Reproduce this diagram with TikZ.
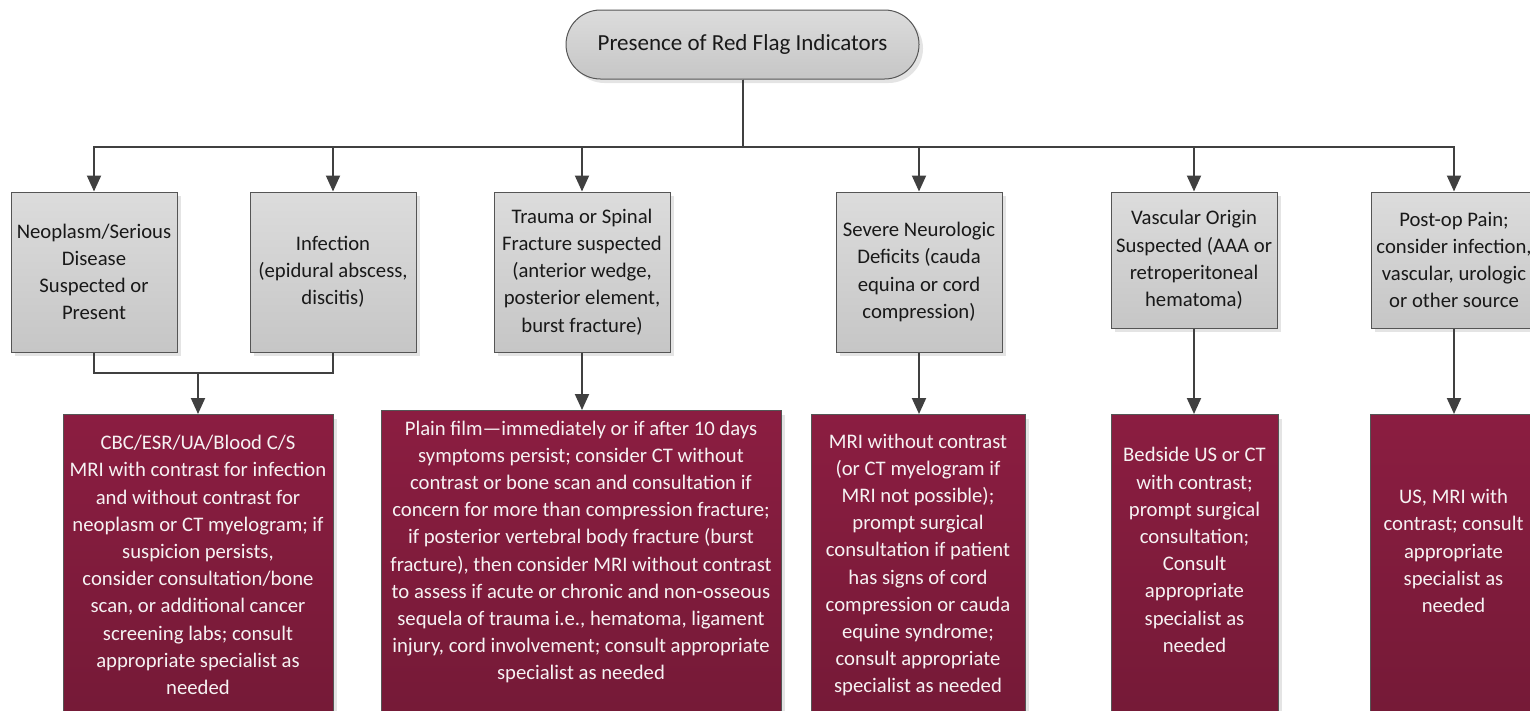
\documentclass[tikz,border=0pt]{standalone}
\usepackage{fontspec}
\setmainfont{Carlito}
\usetikzlibrary{arrows.meta,shadows,calc}
\definecolor{lineC}{HTML}{404040}
\definecolor{greyTop}{HTML}{DCDCDC}
\definecolor{greyBot}{HTML}{C6C6C6}
\definecolor{redTop}{RGB}{139,29,65}
\definecolor{redBot}{RGB}{117,26,55}
\definecolor{boxBorder}{HTML}{555555}
\definecolor{shadowC}{HTML}{E4E4E4}
\definecolor{redText}{HTML}{F6F2F3}
\begin{document}
\begin{tikzpicture}[x=1pt,y=-1pt,
  every node/.style={font=\fontsize{20.7}{27.2}\selectfont},
  sh/.style={general shadow={fill=shadowC, shadow xshift=4pt, shadow yshift=-4pt}},
  greybox/.style={draw=boxBorder, line width=1pt, top color=greyTop, bottom color=greyBot,
    minimum width=166pt, inner sep=0pt, align=center, text=black!90, sh},
  pill/.style={greybox, rounded corners=34.5pt, minimum width=353pt, minimum height=69pt,
    font=\fontsize{23}{28}\selectfont},
  redbox/.style={draw=boxBorder, line width=1pt, top color=redTop, bottom color=redBot,
    inner sep=0pt, anchor=north, sh},
  redtext/.style={text=redText, align=center, inner sep=0pt},
  line/.style={draw=lineC, line width=2pt, line join=miter},
  arr/.style={line, -{Triangle[width=14pt,length=16pt]}}
]
\useasboundingbox (0,0) rectangle (1530,710);
\begin{scope}
\clip (0,0) rectangle (1530,710);

% top
\node[pill] (top) at (742.5,44.5) {Presence of Red Flag Indicators};

% grey boxes
\node[greybox, minimum height=160pt] (g1) at (94,272) {Neoplasm/Serious\\Disease\\Suspected or\\Present};
\node[greybox, minimum height=160pt] (g2) at (333,272) {Infection\\(epidural abscess,\\discitis)};
\node[greybox, minimum height=160pt, minimum width=176pt] (g3) at (582,272) {Trauma or Spinal\\Fracture suspected\\(anterior wedge,\\posterior element,\\burst fracture)};
\node[greybox, minimum height=160pt] (g4) at (919,272) {Severe Neurologic\\Deficits (cauda\\equina or cord\\compression)};
\node[greybox, minimum height=136pt] (g5) at (1194,260) {Vascular Origin\\Suspected (AAA or\\retroperitoneal\\hematoma)};
\node[greybox, minimum height=136pt] (g6) at (1454,260) {Post-op Pain;\\consider infection,\\vascular, urologic\\or other source};

% red boxes
\node[redbox, minimum width=270pt, minimum height=302pt] (r1) at (198,414) {};
\node[redbox, minimum width=400pt, minimum height=306pt] (r2) at (581,410) {};
\node[redbox, minimum width=214pt, minimum height=302pt] (r3) at (918,414) {};
\node[redbox, minimum width=167pt, minimum height=302pt] (r4) at (1194.5,414) {};
\node[redbox, minimum width=167pt, minimum height=302pt] (r5) at (1453.5,414) {};

\node[redtext] (r1t) at (198,565) {CBC/ESR/UA/Blood C/S\\MRI with contrast for infection\\and without contrast for\\neoplasm or CT myelogram; if\\suspicion persists,\\consider consultation/bone\\scan, or additional cancer\\screening labs; consult\\appropriate specialist as\\needed};
\node[redtext] (r2t) at (581,552) {Plain film—immediately or if after 10 days\\symptoms persist; consider CT without\\contrast or bone scan and consultation if\\concern for more than compression fracture;\\if posterior vertebral body fracture (burst\\fracture), then consider MRI without contrast\\to assess if acute or chronic and non-osseous\\sequela of trauma i.e., hematoma, ligament\\injury, cord involvement; consult appropriate\\specialist as needed};
\node[redtext] (r3t) at (918,565) {MRI without contrast\\(or CT myelogram if\\MRI not possible);\\prompt surgical\\consultation if patient\\has signs of cord\\compression or cauda\\equine syndrome;\\consult appropriate\\specialist as needed};
\node[redtext] (r4t) at (1194.5,550) {Bedside US or CT\\with contrast;\\prompt surgical\\consultation;\\Consult\\appropriate\\specialist as\\needed};
\node[redtext] (r5t) at (1453.5,551) {US, MRI with\\contrast; consult\\appropriate\\specialist as\\needed};

% connectors
\coordinate (busY) at (0,147);
\foreach \g in {g1,g2,g3,g4,g5,g6}
  \draw[arr] (top.south) -- (top.south |- busY) -| (\g.north);

\coordinate (m) at (198,373);
\draw[line] (g2.south) |- (m);
\draw[arr] (g1.south) |- (m) -- (r1.north);
\draw[arr] (g3.south) -- (g3.south |- r2.north);
\draw[arr] (g4.south) -- (g4.south |- r3.north);
\draw[arr] (g5.south) -- (g5.south |- r4.north);
\draw[arr] (g6.south) -- (g6.south |- r5.north);
\end{scope}
\end{tikzpicture}
\end{document}
